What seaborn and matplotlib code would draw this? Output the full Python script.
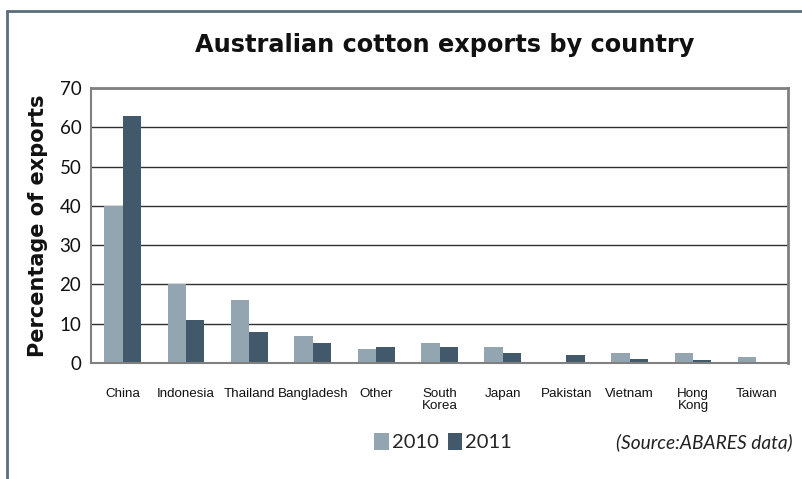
import numpy as np
import pandas as pd
import matplotlib
matplotlib.use("Agg")
import matplotlib.pyplot as plt
from matplotlib.lines import Line2D
import seaborn as sns

# Share of Australian cotton exports by destination (%)
countries = ["China", "Indonesia", "Thailand", "Bangladesh", "Other",
             "South\nKorea", "Japan", "Pakistan", "Vietnam", "Hong\nKong", "Taiwan"]
exports_2010 = [40, 20, 16, 7, 3.5, 5, 4, 0, 2.5, 2.5, 1.5]
exports_2011 = [63, 11, 8, 5, 4, 4, 2.5, 2, 1, 0.8, 0]
years = ["2010", "2011"]
y_ticks = [0, 10, 20, 30, 40, 50, 60, 70]

df = pd.DataFrame({
    "country": countries * 2,
    "year": [years[0]] * len(countries) + [years[1]] * len(countries),
    "share": exports_2010 + exports_2011,
})

sns.set_theme(style="white")
plt.rcParams["font.family"] = ["Lato", "DejaVu Sans"]

W, H = 802, 479
fig = plt.figure(figsize=(W / 100, H / 100), dpi=100)
ax = fig.add_axes([91 / W, 1 - 363 / H, (788 - 91) / W, (363 - 88) / H])

palette = {"2010": "#93a5b1", "2011": "#41596a"}
sns.barplot(data=df, x="country", y="share", hue="year", order=countries,
            palette=palette, width=0.58, gap=0, saturation=1,
            edgecolor="none", linewidth=0, ax=ax, legend=True)

ax.set_xlim(-0.5, len(countries) - 0.5)
ax.set_ylim(0, 70)
ax.set_yticks(y_ticks)
ax.set_yticklabels([str(t) for t in y_ticks], fontsize=13.5, color="#111111")
ax.set_xlabel("")
ax.set_ylabel("")

# horizontal gridlines behind the bars
ax.set_axisbelow(True)
ax.yaxis.grid(True, color="#303030", linewidth=1)
ax.xaxis.grid(False)

for side in ["left", "bottom", "top", "right"]:
    ax.spines[side].set_visible(True)
    ax.spines[side].set_color("#808080")
ax.spines["top"].set_linewidth(2)
ax.spines["right"].set_linewidth(2)
ax.spines["left"].set_linewidth(1.5)
ax.spines["bottom"].set_linewidth(1.5)

# category tick marks sit between groups
ax.set_xticks(np.arange(len(countries)))
ax.set_xticklabels(countries, fontsize=9.6, linespacing=0.95, color="#111111",
                   family=["Liberation Sans", "DejaVu Sans"])
ax.set_xticks(np.arange(-0.5, len(countries)), minor=True)
ax.tick_params(axis="x", which="major", length=0, pad=18)
ax.tick_params(axis="x", which="minor", length=5, width=1, color="#404040", direction="out")
ax.tick_params(axis="y", length=5, width=1, color="#404040", direction="out", pad=2)

# legend below the plot
handles, labels = ax.get_legend_handles_labels()
ax.legend(handles, labels, ncol=2, frameon=False, fontsize=14.5,
          loc="center", bbox_to_anchor=(443 / W, 1 - 442 / H),
          bbox_transform=fig.transFigure, handlelength=0.72, handleheight=0.95,
          handletextpad=0.15, columnspacing=0.45, borderpad=0)

fig.text(445 / W, 1 - 45 / H, "Australian cotton exports by country",
         ha="center", va="center", fontsize=17.3, fontweight="bold", color="#111111",
         family="DejaVu Sans")
fig.text(38 / W, 1 - 226 / H, "Percentage of exports", rotation=90,
         ha="center", va="center", fontsize=15, fontweight="bold", color="#111111",
         family="DejaVu Sans")
fig.text(793 / W, 1 - 442 / H, "(Source:ABARES data)", ha="right", va="center",
         fontsize=13.8, style="italic", color="#222222")

# outer panel frame (top and left edges)
frame_color = "#5b6e7c"
fig.add_artist(Line2D([6.5 / W, 1], [1 - 11 / H, 1 - 11 / H], transform=fig.transFigure,
                      color=frame_color, linewidth=2))
fig.add_artist(Line2D([6.5 / W, 6.5 / W], [1 - 11 / H, 0], transform=fig.transFigure,
                      color=frame_color, linewidth=2))

fig.savefig("out.png", dpi=100)
